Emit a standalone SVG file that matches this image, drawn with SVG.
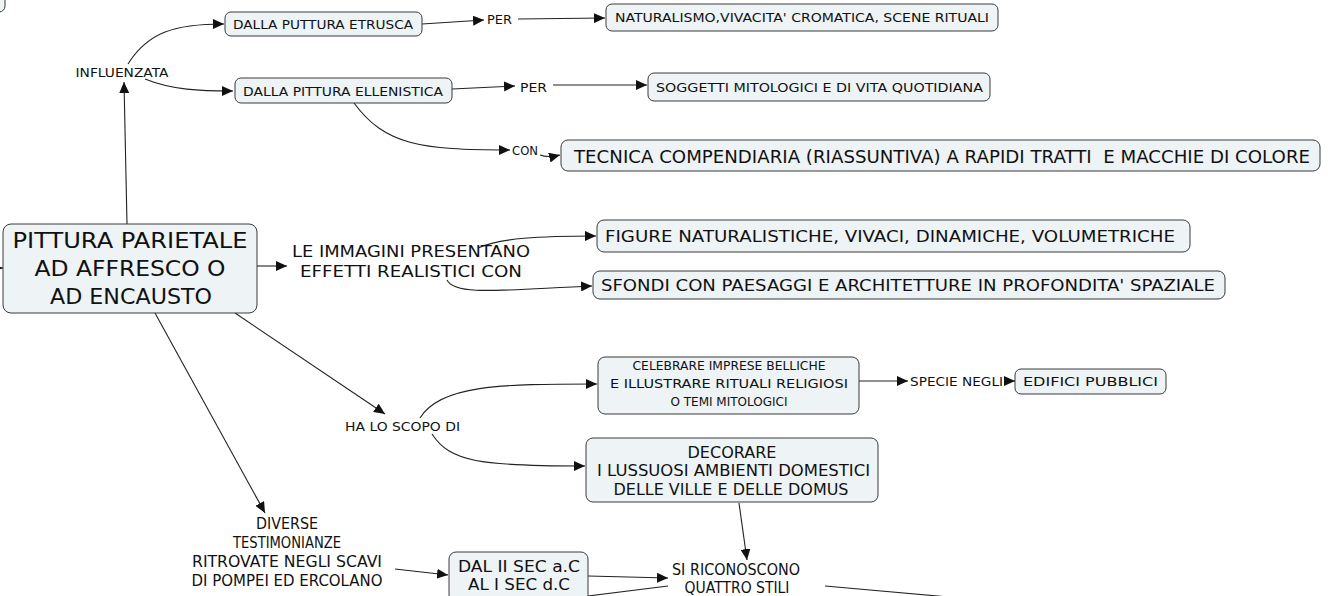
<svg xmlns="http://www.w3.org/2000/svg" width="1328" height="596" viewBox="0 0 1328 596">
<style>
.box{fill:#eef3f5;stroke:#3a3a3a;stroke-width:1}
.c{fill:none;stroke:#222;stroke-width:1.1}
.a{marker-end:url(#ah)}
text{font-family:"DejaVu Sans","Liberation Sans",sans-serif;fill:#111;white-space:pre}
.s12{font-size:13px}
.s14{font-size:15px}
.s15{font-size:16px}
.s17{font-size:18px}
.s20{font-size:22px}
.m{text-anchor:middle}
</style>
<defs>
<marker id="ah" markerUnits="userSpaceOnUse" markerWidth="12" markerHeight="10" refX="11" refY="5" orient="auto">
<path d="M0,0 L11,5 L0,10 z" fill="#111"/>
</marker>
</defs>
<rect width="1328" height="596" fill="#ffffff"/>

<g id="connectors">
<path class="c a" d="M-12,268 L3,268"/>
<path class="c a" d="M127,224 L124,82"/>
<path class="c a" d="M128,64 C148,32 175,24 224,24"/>
<path class="c a" d="M145,79 C172,90 200,91 233,91"/>
<path class="c a" d="M422,24 L484,20"/>
<path class="c a" d="M518,19 L605,18"/>
<path class="c a" d="M452,89 L515,86"/>
<path class="c a" d="M553,85 L647,85"/>
<path class="c a" d="M354,103 C385,145 420,150 510,150"/>
<path class="c a" d="M540,155 Q548,158 560,155"/>
<path class="c a" d="M257,266 L287,266"/>
<path class="c a" d="M478,248 C500,238 540,236 596,236"/>
<path class="c a" d="M447,280 C455,296 500,290 592,286"/>
<path class="c a" d="M235,313 L385,414"/>
<path class="c a" d="M420,418 C440,385 500,384 597,384"/>
<path class="c a" d="M432,434 C450,462 480,466 585,466"/>
<path class="c a" d="M859,381 L908,381"/>
<path class="c a" d="M1004,381 L1015,381"/>
<path class="c a" d="M739,503 L747,560"/>
<path class="c a" d="M155,313 L265,513"/>
<path class="c a" d="M395,569 L448,575"/>
<path class="c a" d="M588,576 L668,578"/>
<path class="c" d="M668,586 L540,602"/>
<path class="c" d="M825,586 L960,598"/>
</g>

<g id="offscreen-node">
<rect class="box" x="-120" y="-30" width="125" height="42" rx="6"/>
</g>

<g id="main">
<rect class="box" x="3" y="224" width="254" height="89" rx="8"/>
<text class="s20 m" x="130" y="248" textLength="235" lengthAdjust="spacingAndGlyphs">PITTURA PARIETALE</text>
<text class="s20 m" x="130" y="276" textLength="191" lengthAdjust="spacingAndGlyphs">AD AFFRESCO O</text>
<text class="s20 m" x="131" y="304" textLength="162" lengthAdjust="spacingAndGlyphs">AD ENCAUSTO</text>
</g>

<g id="influenzata">
<text class="s12 m" x="122" y="77" textLength="93" lengthAdjust="spacingAndGlyphs">INFLUENZATA</text>
</g>

<g id="etrusca">
<rect class="box" x="225" y="12" width="197" height="24" rx="6"/>
<text class="s12 m" x="323" y="28.5" textLength="180" lengthAdjust="spacingAndGlyphs">DALLA PUTTURA ETRUSCA</text>
</g>

<g id="per1">
<text class="s12" x="487" y="23.5" textLength="25" lengthAdjust="spacingAndGlyphs">PER</text>
</g>

<g id="naturalismo">
<rect class="box" x="606" y="4" width="392" height="27" rx="6"/>
<text class="s12" x="615" y="22" textLength="374" lengthAdjust="spacingAndGlyphs">NATURALISMO,VIVACITA' CROMATICA, SCENE RITUALI</text>
</g>

<g id="ellenistica">
<rect class="box" x="235" y="78" width="217" height="25" rx="6"/>
<text class="s12" x="243" y="95.5" textLength="200" lengthAdjust="spacingAndGlyphs">DALLA PITTURA ELLENISTICA</text>
</g>

<g id="per2">
<text class="s12" x="520" y="91.5" textLength="27" lengthAdjust="spacingAndGlyphs">PER</text>
</g>

<g id="soggetti">
<rect class="box" x="648" y="73" width="342" height="28" rx="6"/>
<text class="s12" x="656" y="92" textLength="327" lengthAdjust="spacingAndGlyphs">SOGGETTI MITOLOGICI E DI VITA QUOTIDIANA</text>
</g>

<g id="con">
<text class="s12" x="512" y="155" textLength="26" lengthAdjust="spacingAndGlyphs">CON</text>
</g>

<g id="tecnica">
<rect class="box" x="561" y="140" width="759" height="31" rx="7"/>
<text class="s17" x="574" y="162.5" textLength="736" lengthAdjust="spacingAndGlyphs">TECNICA COMPENDIARIA (RIASSUNTIVA) A RAPIDI TRATTI  E MACCHIE DI COLORE</text>
</g>

<g id="immagini">
<text class="s15 m" x="411" y="257" textLength="238" lengthAdjust="spacingAndGlyphs">LE IMMAGINI PRESENTANO</text>
<text class="s15 m" x="411" y="277" textLength="222" lengthAdjust="spacingAndGlyphs">EFFETTI REALISTICI CON</text>
</g>

<g id="figure">
<rect class="box" x="597" y="220" width="593" height="32" rx="7"/>
<text class="s15" x="605" y="242" textLength="570" lengthAdjust="spacingAndGlyphs">FIGURE NATURALISTICHE, VIVACI, DINAMICHE, VOLUMETRICHE</text>
</g>

<g id="sfondi">
<rect class="box" x="593" y="271" width="632" height="28" rx="7"/>
<text class="s15" x="601" y="291" textLength="614" lengthAdjust="spacingAndGlyphs">SFONDI CON PAESAGGI E ARCHITETTURE IN PROFONDITA' SPAZIALE</text>
</g>

<g id="scopo">
<text class="s12" x="345" y="431" textLength="115" lengthAdjust="spacingAndGlyphs">HA LO SCOPO DI</text>
</g>

<g id="celebrare">
<rect class="box" x="598" y="357" width="261" height="57" rx="7"/>
<text class="s12 m" x="729" y="370" textLength="193" lengthAdjust="spacingAndGlyphs">CELEBRARE IMPRESE BELLICHE</text>
<text class="s12 m" x="729" y="388" textLength="238" lengthAdjust="spacingAndGlyphs">E ILLUSTRARE RITUALI RELIGIOSI</text>
<text class="s12 m" x="729" y="406" textLength="117" lengthAdjust="spacingAndGlyphs">O TEMI MITOLOGICI</text>
</g>

<g id="specie">
<text class="s12" x="910" y="385.5" textLength="93" lengthAdjust="spacingAndGlyphs">SPECIE NEGLI</text>
</g>

<g id="edifici">
<rect class="box" x="1015" y="369" width="151" height="25" rx="6"/>
<text class="s12" x="1023" y="386" textLength="135" lengthAdjust="spacingAndGlyphs">EDIFICI PUBBLICI</text>
</g>

<g id="decorare">
<rect class="box" x="586" y="438" width="292" height="64" rx="7"/>
<text class="s14 m" x="732" y="457.5" textLength="89" lengthAdjust="spacingAndGlyphs">DECORARE</text>
<text class="s14" x="597" y="475.5" textLength="273" lengthAdjust="spacingAndGlyphs">I LUSSUOSI AMBIENTI DOMESTICI</text>
<text class="s14 m" x="731" y="494.5" textLength="235" lengthAdjust="spacingAndGlyphs">DELLE VILLE E DELLE DOMUS</text>
</g>

<g id="diverse">
<text class="s15 m" x="287" y="529" textLength="62" lengthAdjust="spacingAndGlyphs">DIVERSE</text>
<text class="s15 m" x="287" y="548" textLength="108" lengthAdjust="spacingAndGlyphs">TESTIMONIANZE</text>
<text class="s15 m" x="287" y="567" textLength="190" lengthAdjust="spacingAndGlyphs">RITROVATE NEGLI SCAVI</text>
<text class="s15 m" x="287" y="586" textLength="191" lengthAdjust="spacingAndGlyphs">DI POMPEI ED ERCOLANO</text>
</g>

<g id="dal">
<rect class="box" x="449" y="552" width="139" height="50" rx="7"/>
<text class="s14 m" x="519" y="572" textLength="122" lengthAdjust="spacingAndGlyphs">DAL II SEC a.C</text>
<text class="s14 m" x="519" y="590" textLength="102" lengthAdjust="spacingAndGlyphs">AL I SEC d.C</text>
</g>

<g id="stili">
<text class="s14 m" x="736" y="575" textLength="128" lengthAdjust="spacingAndGlyphs">SI RICONOSCONO</text>
<text class="s14 m" x="737" y="593" textLength="105" lengthAdjust="spacingAndGlyphs">QUATTRO STILI</text>
</g>
</svg>
